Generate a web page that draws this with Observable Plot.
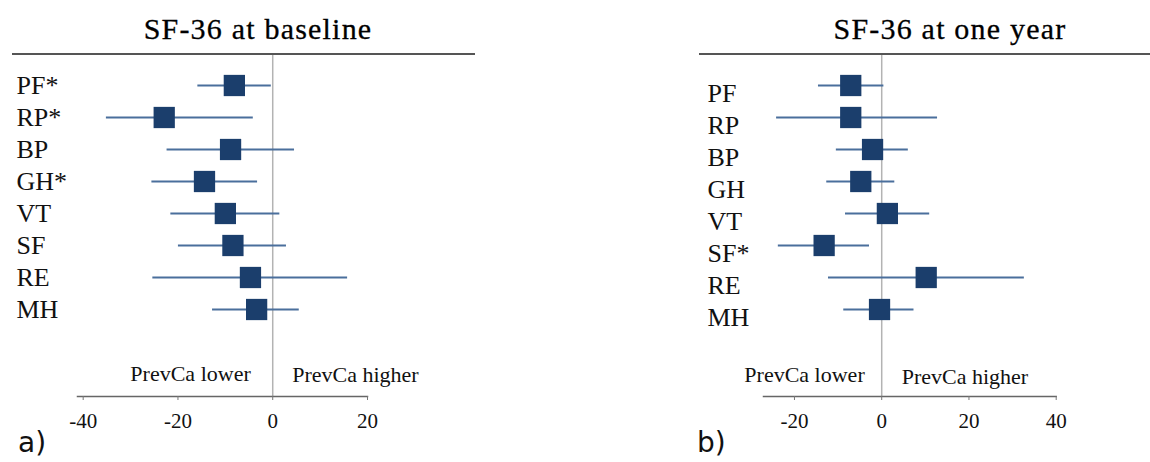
<!DOCTYPE html>
<html>
<head>
<meta charset="utf-8">
<script src="https://cdn.jsdelivr.net/npm/d3@7"></script>
<script src="https://cdn.jsdelivr.net/npm/@observablehq/plot@0.6"></script>
<style>
  html, body { margin: 0; padding: 0; background: #fff; }
  #wrap { position: relative; width: 1150px; height: 462px; overflow: hidden; background: #fff; }
  .title { position: absolute; text-align: center; font-family: "Liberation Serif", serif; font-size: 30px; line-height: 30px; color: #000; letter-spacing: 1.2px; white-space: nowrap; -webkit-text-stroke: 0.3px #000; }
  .sep { position: absolute; height: 2px; background: #555; }
  .tag { position: absolute; font-family: "DejaVu Sans", sans-serif; font-size: 28px; line-height: 28px; color: #111; }
  .panel { position: absolute; top: 0; }
  .panel text { font-family: "Liberation Serif", serif !important; }
</style>
</head>
<body>
<div id="wrap"></div>
<script>
// ---- data ----
const titleA = "SF-36 at baseline";
const titleB = "SF-36 at one year";
const labelsA = ["PF*", "RP*", "BP", "GH*", "VT", "SF", "RE", "MH"];
const meanA = [-8.1, -22.9, -8.9, -14.4, -10.0, -8.4, -4.7, -3.4];
const lowA  = [-15.8, -35.1, -22.3, -25.5, -21.5, -19.9, -25.3, -12.7];
const highA = [-0.3, -4.1, 4.6, -3.2, 1.5, 2.9, 15.8, 5.6];
const labelsB = ["PF", "RP", "BP", "GH", "VT", "SF*", "RE", "MH"];
const meanB = [-7.1, -7.1, -2.1, -4.8, 1.3, -13.2, 10.2, -0.5];
const lowB  = [-14.5, -24.1, -10.4, -12.6, -8.3, -23.7, -12.2, -8.7];
const highB = [0.5, 12.8, 6.1, 3.0, 11.0, -2.8, 32.7, 7.4];
const ticksA = [-40, -20, 0, 20];
const ticksB = [-20, 0, 20, 40];
const sideLabels = ["PrevCa lower", "PrevCa higher"];
const panelTags = ["a)", "b)"];

function panel(o) {
  const rows = o.labels.map((l, i) => ({label: l, mean: o.mean[i], low: o.low[i], high: o.high[i]}));
  const serif = "'Liberation Serif', serif";
  return Plot.plot({
    width: o.width,
    height: 462,
    marginLeft: o.marginLeft,
    marginRight: o.marginRight,
    marginTop: 55,
    marginBottom: 66,
    style: {fontFamily: serif, fontSize: "21px", color: "#111", background: "transparent", overflow: "visible"},
    x: {domain: o.domain, axis: null},
    y: {type: "point", domain: o.labels, range: [83, 310], padding: 0, axis: null},
    marks: [
      Plot.ruleX([0], {stroke: "#b3b3b3", strokeWidth: 1.5}),
      Plot.frame({anchor: "bottom", stroke: "#666", strokeWidth: 1.5}),
      Plot.axisX(o.ticks, {tickSize: 4, tickPadding: 13, stroke: "#777", fill: "#111", tickFormat: d => String(d), fontSize: 21, fontFamily: serif, label: null}),
      Plot.ruleY(rows, {y: "label", x1: "low", x2: "high", stroke: "#4a6f9c", strokeWidth: 2}),
      Plot.dot(rows, {x: "mean", y: "label", symbol: "square", r: 12, fill: "#1b3e6c", stroke: "none"}),
      Plot.text(rows, {y: "label", text: "label", frameAnchor: "left", lineAnchor: "middle", dx: o.labelDx, dy: o.labelDy, textAnchor: "start", fontSize: 26, fontFamily: serif, fill: "#111"}),
      Plot.text([sideLabels[0]], {x: d => 0, text: d => d, frameAnchor: "bottom", lineAnchor: "middle", dy: o.lowerDy, dx: o.lowerDx, textAnchor: "end", fontSize: 22, fontFamily: serif, fill: "#111"}),
      Plot.text([sideLabels[1]], {x: d => 0, text: d => d, frameAnchor: "bottom", lineAnchor: "middle", dy: o.higherDy, dx: o.higherDx, textAnchor: "start", fontSize: 22, fontFamily: serif, fill: "#111"})
    ]
  });
}

const wrap = document.getElementById("wrap");

function addDiv(cls, style, text) {
  const d = document.createElement("div");
  d.className = cls;
  Object.assign(d.style, style);
  if (text != null) d.textContent = text;
  wrap.appendChild(d);
  return d;
}

const pA = panel({labels: labelsA, mean: meanA, low: lowA, high: highA, ticks: ticksA,
  domain: [-41.2, 20], width: 480, marginLeft: 77, marginRight: 113,
  labelDx: -61, labelDy: 0, lowerDx: -22, higherDx: 19.5, lowerDy: -22.5, higherDy: -22});
pA.classList.add("panel");
pA.style.left = "0px";
wrap.appendChild(pA);

const pB = panel({labels: labelsB, mean: meanB, low: lowB, high: highB, ticks: ticksB,
  domain: [-27.1, 40], width: 460, marginLeft: 73, marginRight: 94.3,
  labelDx: -56, labelDy: 8, lowerDx: -17, higherDx: 20, lowerDy: -22, higherDy: -20});
pB.classList.add("panel");
pB.style.left = "690px";
wrap.appendChild(pB);

addDiv("sep", {left: "12px", width: "463px", top: "53px"});
addDiv("sep", {left: "699px", width: "451px", top: "53px"});
addDiv("title", {left: "0px", width: "516px", top: "14px"}, titleA);
addDiv("title", {left: "690px", width: "520px", top: "14px"}, titleB);
addDiv("tag", {left: "18px", top: "429px"}, panelTags[0]);
addDiv("tag", {left: "697px", top: "429px"}, panelTags[1]);
</script>
</body>
</html>
